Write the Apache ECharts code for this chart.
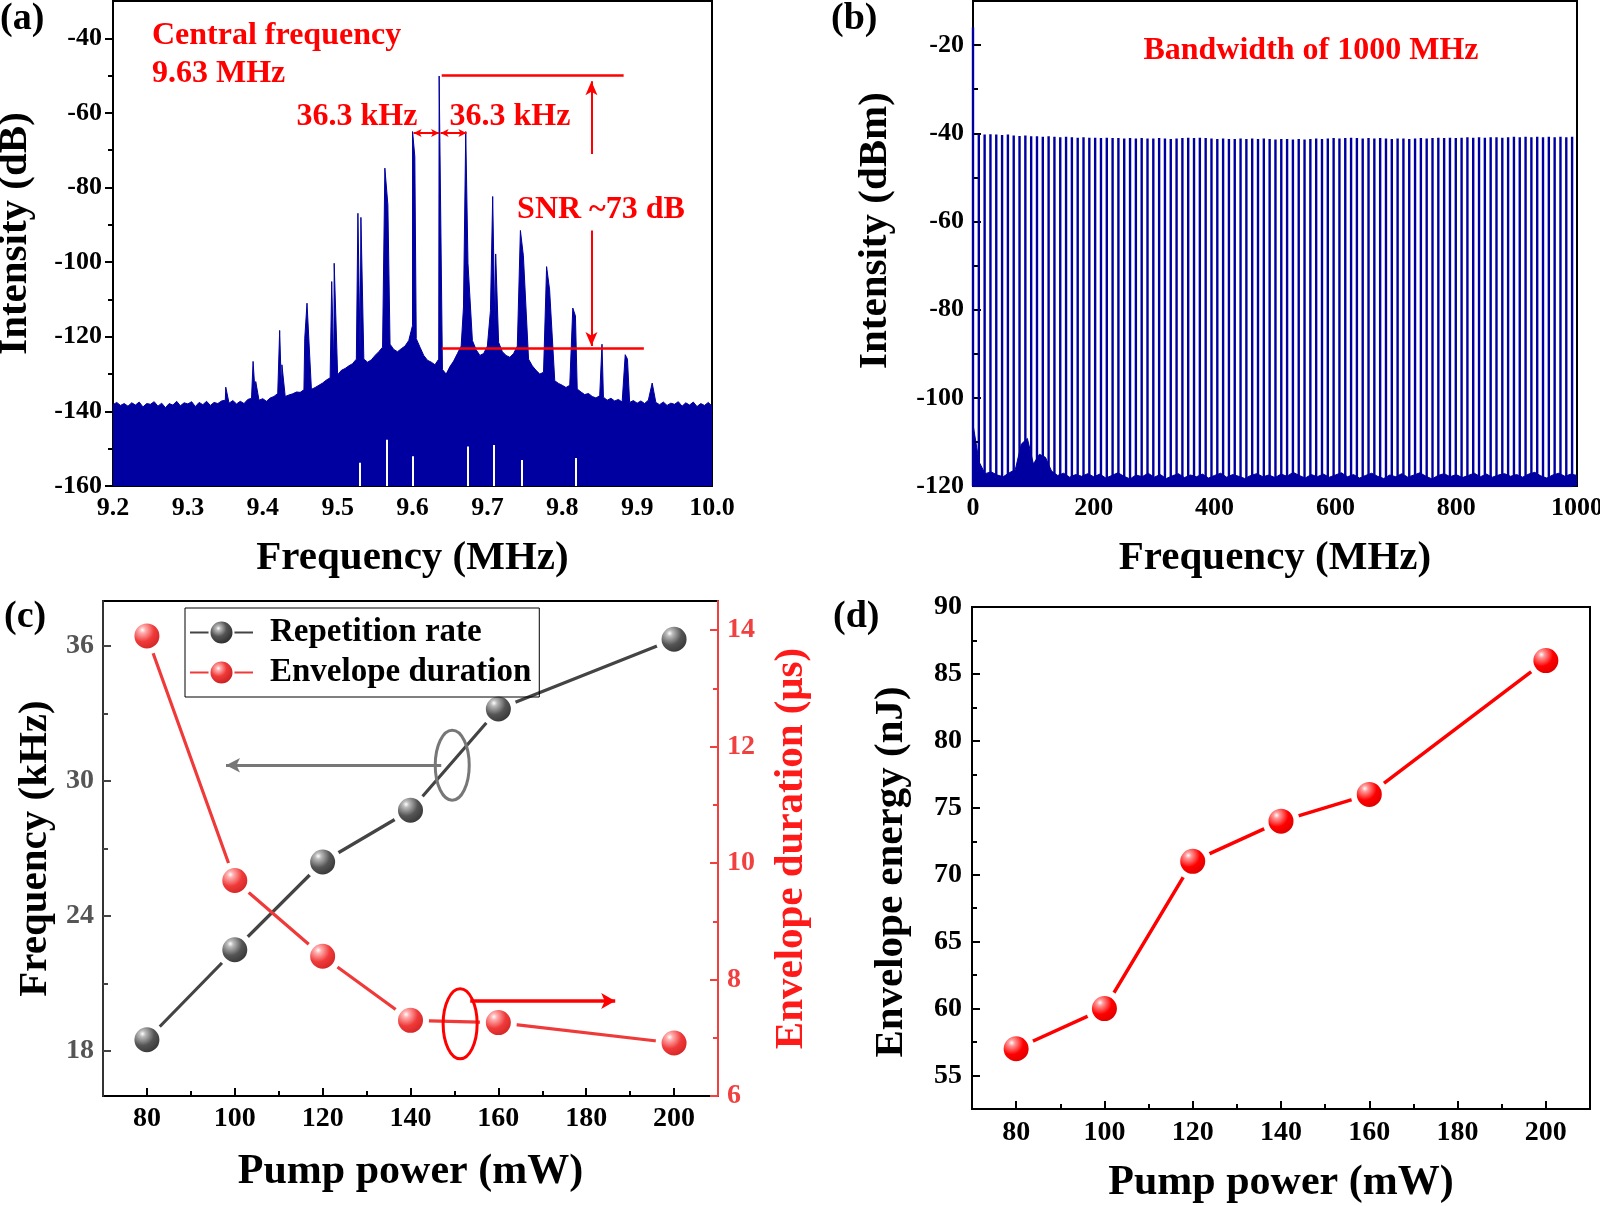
<!DOCTYPE html>
<html>
<head>
<meta charset="utf-8">
<script src="https://cdn.jsdelivr.net/npm/echarts@6/dist/echarts.min.js"></script>
<style>
  html, body { margin: 0; padding: 0; background: #fff; }
  #chart { width: 1600px; height: 1206px; }
</style>
</head>
<body>
<div id="chart"></div>
<script>
// ---------- data ----------
// (a) RF spectrum, noise floor sampled every 5 kHz from 9.200 MHz
const floorStartA = 9.2;
const floorStepA = 0.005;
const floorA = [
  -138.2,-137.6,-138.4,-137.9,-138.6,-137.7,-138.3,-137.5,-138.8,-137.9,
  -138.1,-137.4,-138.6,-137.8,-139.0,-137.9,-138.3,-137.3,-138.5,-137.7,
  -138.0,-137.4,-138.7,-137.6,-138.2,-137.3,-138.4,-137.6,-137.9,-137.2,
  -137.0,-137.8,-137.1,-138.0,-137.3,-137.9,-136.8,-136.5,-135.8,-137.0,
  -136.6,-137.3,-136.4,-136.0,-135.2,-135.0,-136.0,-135.6,-135.3,-134.8,
  -134.9,-134.2,-133.0,-134.1,-133.6,-133.0,-132.4,-131.6,-131.0,-129.5,
  -130.2,-129.0,-128.5,-127.8,-127.2,-126.0,-124.5,-126.0,-126.8,-126.2,
  -125.0,-124.0,-122.8,-120.5,-122.0,-123.4,-124.0,-123.2,-122.5,-121.0,
  -117.0,-120.5,-122.8,-125.0,-126.3,-126.8,-127.5,-126.0,-128.8,-130.0,
  -128.0,-126.5,-124.5,-122.5,-118.0,-117.5,-121.0,-123.5,-125.0,-124.5,
  -122.5,-120.5,-117.5,-121.5,-124.0,-125.0,-125.5,-124.5,-122.5,-120.0,
  -123.0,-126.0,-127.8,-129.0,-130.0,-129.5,-127.5,-130.5,-131.8,-132.5,
  -133.0,-133.6,-133.0,-131.0,-134.0,-134.8,-135.5,-135.2,-136.0,-136.4,
  -135.8,-136.2,-137.0,-136.5,-137.2,-136.8,-137.5,-136.9,-137.6,-137.1,
  -137.8,-137.2,-137.9,-137.0,-136.5,-137.6,-138.2,-137.5,-138.4,-137.8,
  -138.1,-137.4,-138.6,-137.7,-138.3,-137.5,-138.7,-137.9,-138.4,-137.6,
  -138.6
];
// spike tops [MHz, dB]
const peaksA = [
  [9.3515,-133.5],
  [9.3880,-126.6],[9.3915,-132.0],
  [9.4235,-118.3],[9.4265,-127.5],
  [9.4570,-120.4],[9.4600,-111.0],
  [9.4930,-105.2],[9.4963,-100.3],
  [9.5280,-86.9],[9.5320,-88.0],
  [9.5640,-74.8],[9.5680,-84.6],
  [9.6010,-65.0],[9.6040,-71.7],
  [9.6365,-50.1],
  [9.6690,-112.0],[9.6720,-65.0],[9.6750,-100.3],
  [9.7050,-113.0],[9.7080,-82.4],[9.7120,-97.8],
  [9.7450,-91.5],[9.7490,-98.3],
  [9.7800,-101.2],[9.7840,-107.4],
  [9.8150,-112.3],[9.8185,-114.4],
  [9.8540,-122.0],
  [9.8850,-124.8],[9.8880,-126.0],
  [9.9210,-132.4]
];
// white dropouts at the bottom of the trace [MHz, top dB]
const gapsA = [[9.530,-153.8],[9.566,-147.6],[9.601,-152.0],[9.674,-149.4],[9.709,-149.0],[9.746,-153.0],[9.8185,-152.5]];
const xLabelsA = [9.2, 9.3, 9.4, 9.5, 9.6, 9.7, 9.8, 9.9, 10.0];
const yLabelsA = [-160, -140, -120, -100, -80, -60, -40];
const yMinorA = [-150, -130, -110, -90, -70, -50];

// (b) broadband comb, line spacing = repetition rate 9.63 MHz
const combStepB = 9.63;
const combTopsB = [
  -16,
  -40.2,-40.3,-40.2,-40.3,-40.4,-40.3,-40.5,-40.6,-40.5,-40.7,
  -40.7,-40.8,-40.7,-40.8,-40.9,-40.8,-40.9,-41.0,-40.9,-41.0,
  -41.0,-41.1,-41.0,-41.1,-41.1,-41.2,-41.1,-41.2,-41.1,-41.2,
  -41.2,-41.1,-41.2,-41.3,-41.2,-41.1,-41.0,-41.1,-41.0,-41.1,
  -41.2,-41.3,-41.2,-41.3,-41.3,-41.2,-41.3,-41.2,-41.3,-41.2,
  -41.3,-41.4,-41.3,-41.3,-41.4,-41.3,-41.4,-41.3,-41.2,-41.3,
  -41.2,-41.1,-41.2,-41.1,-41.0,-41.1,-41.2,-41.1,-41.2,-41.1,
  -41.2,-41.3,-41.2,-41.2,-41.3,-41.2,-41.1,-41.2,-41.1,-41.0,
  -41.1,-41.0,-41.1,-41.0,-40.9,-41.0,-40.9,-41.0,-40.9,-40.9,
  -41.0,-40.9,-40.8,-40.9,-40.8,-40.9,-40.8,-40.9,-40.8,-40.9,
  -40.8,-40.9,-40.8
];
// noise floor every 10 MHz
const floorStepB = 10;
const floorB = [
  -106.0,-114.5,-117.2,-116.8,-117.5,-117.9,-117.0,-116.3,-110.5,-109.2,
  -115.0,-112.8,-113.5,-116.6,-117.6,-117.1,-118.0,-117.4,-117.8,-117.2,
  -117.9,-117.3,-118.2,-117.6,-117.0,-117.8,-118.4,-117.5,-117.9,-117.1,
  -118.0,-117.4,-118.3,-117.7,-117.2,-118.1,-117.5,-117.9,-117.3,-118.2,
  -117.6,-117.1,-118.0,-117.4,-117.8,-118.3,-117.6,-117.2,-117.9,-117.5,
  -118.1,-117.3,-117.8,-116.9,-117.6,-118.2,-117.4,-117.9,-117.3,-118.0,
  -117.5,-117.0,-117.9,-117.4,-118.2,-117.6,-117.1,-117.8,-118.3,-117.5,
  -117.9,-117.2,-118.0,-117.5,-117.0,-117.8,-118.4,-117.6,-117.2,-117.9,
  -117.4,-118.1,-117.6,-117.1,-117.9,-117.3,-118.0,-117.5,-117.2,-117.8,
  -117.4,-118.0,-117.3,-116.9,-117.7,-118.2,-117.5,-117.1,-117.8,-117.3,
  -117.6
];
const xLabelsB = [0, 200, 400, 600, 800, 1000];
const yLabelsB = [-120, -100, -80, -60, -40, -20];
const yMinorB = [-110, -90, -70, -50, -30];

// (c) repetition rate and envelope duration vs pump power
const powerC = [80, 100, 120, 140, 160, 200];
const repRate = [18.5, 22.5, 26.4, 28.7, 33.2, 36.3];
const envDuration = [13.9, 9.7, 8.4, 7.3, 7.26, 6.91];
const xLabelsC = [80, 100, 120, 140, 160, 180, 200];
const xMinorC = [90, 110, 130, 150, 170, 190];
const yLabelsC = [18, 24, 30, 36];
const yMinorC = [21, 27, 33];
const yRLabelsC = [6, 8, 10, 12, 14];
const yRMinorC = [7, 9, 11, 13];

// (d) envelope energy vs pump power
const powerD = [80, 100, 120, 140, 160, 200];
const envEnergy = [57, 60, 71, 74, 76, 86];
const xLabelsD = [80, 100, 120, 140, 160, 180, 200];
const xMinorD = [90, 110, 130, 150, 170, 190];
const yLabelsD = [55, 60, 65, 70, 75, 80, 85, 90];
const yMinorD = [57.5, 62.5, 67.5, 72.5, 77.5, 82.5, 87.5];

// ---------- build series data ----------
const specA = [];
floorA.forEach((v, i) => {
  const f = +(floorStartA + i * floorStepA).toFixed(4);
  if (!peaksA.some(p => Math.abs(p[0] - f) < 0.001)) specA.push([f, v]);
});
peaksA.forEach(p => { specA.push([p[0] - 0.0009, p[1]], [p[0] + 0.0009, p[1]]); });
specA.sort((a, b) => a[0] - b[0]);

const combB = [];
combTopsB.forEach((v, i) => {
  const f = i * combStepB;
  combB.push([f, -120], [f, v], [f, -120]);
});
const floorSeriesB = floorB.map((v, i) => [i * floorStepB, v]);

const FONT = '"Liberation Serif", "Times New Roman", serif';
const txt = (size, color) => ({ fontFamily: FONT, fontWeight: 'bold', fontSize: size, color: color || '#000' });
const RED = '#ff0000';
const BLUE = '#0000a0';

function axis(o) {
  return {
    type: 'value', gridIndex: o.grid, min: o.min, max: o.max, position: o.pos,
    name: o.name || '', nameLocation: 'middle', nameGap: o.nameGap || 0,
    nameTextStyle: Object.assign(txt(o.nameSize || 41, o.nameColor), o.namePad ? { padding: o.namePad } : {}),
    nameMoveOverlap: false,
    axisLine: { show: !!o.lineColor, lineStyle: { color: o.lineColor || '#000', width: 2 } },
    axisTick: o.ticks ? { show: true, inside: !!o.inside, length: o.tickLen || 8, customValues: o.ticks,
      lineStyle: { color: o.tickColor || '#000', width: 2 } } : { show: false },
    axisLabel: o.labels ? Object.assign({ show: true, customValues: o.labels, margin: o.margin || 10,
      formatter: o.fmt || (v => String(v)) }, txt(o.labelSize || 26, o.labelColor)) : { show: false },
    splitLine: { show: false },
    z: o.z || 3
  };
}

function ball(light, mid, dark) {
  return { type: 'radial', x: 0.38, y: 0.34, r: 0.7,
    colorStops: [{ offset: 0, color: '#ffffff' }, { offset: 0.12, color: light },
                 { offset: 0.45, color: mid }, { offset: 1, color: dark }] };
}

const gridBase = { show: true, borderColor: '#000', borderWidth: 2, backgroundColor: 'transparent', outerBoundsMode: 'none' };

// annotation positions (data coordinates)
const snrTop = -50, snrBottom = -123, snrX = 9.839;
const kHzY = -65.4;
const greyArrowC = [[147, 30.7], [98, 30.7]];
const redArrowC = [[153.6, 7.63], [186.6, 7.63]];
const greyEllipseC = [149.5, 30.7];
const redEllipseC = [151.3, 7.24];

const redLine = { color: RED, width: 2.5, type: 'solid' };
const redThin = { color: RED, width: 2, type: 'solid' };
const marksA = [
  [{ coord: [9.639, snrTop], symbol: 'none', lineStyle: redLine }, { coord: [9.882, snrTop], symbol: 'none' }],
  [{ coord: [9.639, snrBottom], symbol: 'none', lineStyle: redLine }, { coord: [9.909, snrBottom], symbol: 'none' }],
  [{ coord: [snrX, -71], symbol: 'none', lineStyle: redThin }, { coord: [snrX, -51.5], symbol: 'arrow', symbolSize: [9, 14] }],
  [{ coord: [snrX, -91.5], symbol: 'none', lineStyle: redThin }, { coord: [snrX, -122.5], symbol: 'arrow', symbolSize: [9, 14] }],
  [{ coord: [9.6015, kHzY], symbol: 'arrow', symbolSize: [6, 8], lineStyle: redThin }, { coord: [9.6355, kHzY], symbol: 'arrow', symbolSize: [6, 8] }],
  [{ coord: [9.6375, kHzY], symbol: 'arrow', symbolSize: [6, 8], lineStyle: redThin }, { coord: [9.672, kHzY], symbol: 'arrow', symbolSize: [6, 8] }]
].concat(gapsA.map(g => [
  { coord: [g[0], -160], symbol: 'none', lineStyle: { color: '#fff', width: 2, type: 'solid' } },
  { coord: [g[0], g[1]], symbol: 'none' }
]));

const markBase = { silent: true, animation: false, label: { show: false }, emphasis: { disabled: true },
  lineStyle: { type: 'solid' } };

const chart = echarts.init(document.getElementById('chart'), null, { renderer: 'canvas' });

const option = {
  animation: false,
  backgroundColor: '#fff',
  grid: [
    Object.assign({ left: 113, top: 1, width: 599, height: 485 }, gridBase),
    Object.assign({ left: 973, top: 1, width: 604, height: 485 }, gridBase),
    Object.assign({ left: 103, top: 601, width: 615, height: 495 }, gridBase),
    Object.assign({ left: 972, top: 607, width: 618, height: 502 }, gridBase)
  ],
  legend: {
    data: ['Repetition rate', 'Envelope duration'],
    orient: 'vertical', left: 185, top: 608,
    itemWidth: 63, itemHeight: 30, itemGap: 7,
    padding: [8, 8, 8, 4],
    borderColor: '#000', borderWidth: 1,
    textStyle: Object.assign(txt(33), { padding: [0, 0, 0, 12] })
  },
  xAxis: [
    axis({ grid: 0, min: 9.2, max: 10.0, pos: 'bottom', labels: xLabelsA, fmt: v => v.toFixed(1), margin: 9,
      name: 'Frequency (MHz)', nameGap: 52 }),
    axis({ grid: 1, min: 0, max: 1000, pos: 'bottom', labels: xLabelsB, margin: 9,
      name: 'Frequency (MHz)', nameGap: 52 }),
    axis({ grid: 2, min: 70, max: 210, pos: 'bottom', labels: xLabelsC, ticks: xLabelsC, inside: true, labelSize: 28, margin: 9,
      name: 'Pump power (mW)', nameGap: 55, nameSize: 42 }),
    axis({ grid: 2, min: 70, max: 210, pos: 'bottom', ticks: xMinorC, inside: true, tickLen: 5 }),
    axis({ grid: 3, min: 70, max: 210, pos: 'bottom', labels: xLabelsD, ticks: xLabelsD, inside: true, labelSize: 28, margin: 10,
      name: 'Pump power (mW)', nameGap: 53, nameSize: 42 }),
    axis({ grid: 3, min: 70, max: 210, pos: 'bottom', ticks: xMinorD, inside: true, tickLen: 5 })
  ],
  yAxis: [
    axis({ grid: 0, min: -160, max: -30, pos: 'left', labels: yLabelsA, ticks: yLabelsA, margin: 11,
      name: 'Intensity (dB)', nameGap: 77, namePad: [0, 0, 0, 20] }),
    axis({ grid: 0, min: -160, max: -30, pos: 'left', ticks: yMinorA, tickLen: 5 }),
    axis({ grid: 1, min: -120, max: -10, pos: 'left', labels: yLabelsB, ticks: yLabelsB, inside: true, margin: 9,
      name: 'Intensity (dBm)', nameGap: 77, namePad: [0, 0, 0, 26] }),
    axis({ grid: 1, min: -120, max: -10, pos: 'left', ticks: yMinorB, inside: true, tickLen: 5 }),
    axis({ grid: 2, min: 16, max: 38, pos: 'left', labels: yLabelsC, ticks: yLabelsC, inside: true, labelSize: 28,
      labelColor: '#555', tickColor: '#444', lineColor: '#333', margin: 9,
      name: 'Frequency (kHz)', nameGap: 47 }),
    axis({ grid: 2, min: 16, max: 38, pos: 'left', ticks: yMinorC, inside: true, tickLen: 5, tickColor: '#444' }),
    axis({ grid: 2, min: 6, max: 14.5, pos: 'right', labels: yRLabelsC, ticks: yRLabelsC, inside: true, labelSize: 28,
      labelColor: '#f04040', tickColor: '#f04040', lineColor: '#f04040', margin: 9, z: 5,
      name: 'Envelope duration (\u03bcs)', nameGap: 53, nameColor: '#ff1a1a' }),
    axis({ grid: 2, min: 6, max: 14.5, pos: 'right', ticks: yRMinorC, inside: true, tickLen: 5, tickColor: '#f04040' }),
    axis({ grid: 3, min: 52.5, max: 90, pos: 'left', labels: yLabelsD, ticks: yLabelsD, inside: true, labelSize: 28, margin: 10,
      name: 'Envelope energy (nJ)', nameGap: 60, namePad: [0, 28, 0, 0] }),
    axis({ grid: 3, min: 52.5, max: 90, pos: 'left', ticks: yMinorD, inside: true, tickLen: 5 })
  ],
  series: [
    {
      name: 'spectrumA', type: 'line', xAxisIndex: 0, yAxisIndex: 0,
      data: specA, showSymbol: false, symbol: 'none', sampling: false,
      lineStyle: { color: BLUE, width: 1 },
      areaStyle: { color: BLUE, opacity: 1, origin: 'start' },
      silent: true,
      markLine: Object.assign({ data: marksA }, markBase)
    },
    {
      name: 'floorB', type: 'line', xAxisIndex: 1, yAxisIndex: 2,
      data: floorSeriesB, showSymbol: false, symbol: 'none',
      lineStyle: { color: BLUE, width: 1 },
      areaStyle: { color: BLUE, opacity: 1, origin: 'start' },
      silent: true
    },
    {
      name: 'combB', type: 'line', xAxisIndex: 1, yAxisIndex: 2,
      data: combB, showSymbol: false, symbol: 'none',
      lineStyle: { color: BLUE, width: 2.4, join: 'bevel' },
      silent: true
    },
    {
      name: 'Repetition rate', type: 'line', xAxisIndex: 2, yAxisIndex: 4,
      data: powerC.map((p, i) => [p, repRate[i]]),
      symbol: 'circle', symbolSize: 31,
      itemStyle: { color: ball('#bbbbbb', '#555555', '#222222'), borderColor: '#fff', borderWidth: 6 },
      lineStyle: { color: '#444444', width: 3.2 },
      z: 3,
      markLine: Object.assign({
        data: [[{ coord: greyArrowC[0], symbol: 'none', lineStyle: { color: '#777', width: 3, type: 'solid' } },
                { coord: greyArrowC[1], symbol: 'arrow', symbolSize: [11, 14] }]] }, markBase)
    },
    {
      name: 'Envelope duration', type: 'line', xAxisIndex: 2, yAxisIndex: 6,
      data: powerC.map((p, i) => [p, envDuration[i]]),
      symbol: 'circle', symbolSize: 31,
      itemStyle: { color: ball('#ffb0b0', '#f03a3a', '#c01818'), borderColor: '#fff', borderWidth: 6 },
      lineStyle: { color: '#f03a3a', width: 3.2 },
      z: 4,
      markLine: Object.assign({
        data: [[{ coord: redArrowC[0], symbol: 'none', lineStyle: { color: RED, width: 3.5, type: 'solid' } },
                { coord: redArrowC[1], symbol: 'arrow', symbolSize: [12, 14] }]] }, markBase)
    },
    {
      name: 'Envelope energy', type: 'line', xAxisIndex: 4, yAxisIndex: 8,
      data: powerD.map((p, i) => [p, envEnergy[i]]),
      symbol: 'circle', symbolSize: 31,
      itemStyle: { color: ball('#ff9a9a', '#ff0000', '#c80000'), borderColor: '#fff', borderWidth: 6 },
      lineStyle: { color: RED, width: 3.5 }
    }
  ]
};

chart.setOption(option);

// graphic annotations placed after the axes exist
const px = (xi, yi, p) => chart.convertToPixel({ xAxisIndex: xi, yAxisIndex: yi }, p);
const ge = px(2, 4, greyEllipseC);
const re = px(2, 6, redEllipseC);
const label = (text, x, y, size, color, align) => ({
  type: 'text', x: x, y: y, z: 100,
  style: { text: text, fill: color || '#000', font: 'bold ' + size + 'px ' + FONT,
           align: align || 'left', verticalAlign: 'middle' }
});

chart.setOption({
  graphic: [
    label('(a)', 0, 19, 38),
    label('(b)', 831, 19, 38),
    label('(c)', 4, 617, 38),
    label('(d)', 833, 617, 38),
    label('Central frequency', 152, 36, 32, RED),
    label('9.63 MHz', 152, 74, 32, RED),
    label('36.3 kHz', 357, 117, 32, RED, 'center'),
    label('36.3 kHz', 510, 117, 32, RED, 'center'),
    label('SNR ~73 dB', 601, 210, 32, RED, 'center'),
    label('Bandwidth of 1000 MHz', 1311, 51, 32, RED, 'center'),
    { type: 'ellipse', z: 100, shape: { cx: ge[0], cy: ge[1], rx: 17, ry: 35 },
      style: { fill: 'none', stroke: '#777', lineWidth: 3 } },
    { type: 'ellipse', z: 100, shape: { cx: re[0], cy: re[1], rx: 17, ry: 35 },
      style: { fill: 'none', stroke: RED, lineWidth: 3 } }
  ]
});
</script>
</body>
</html>
